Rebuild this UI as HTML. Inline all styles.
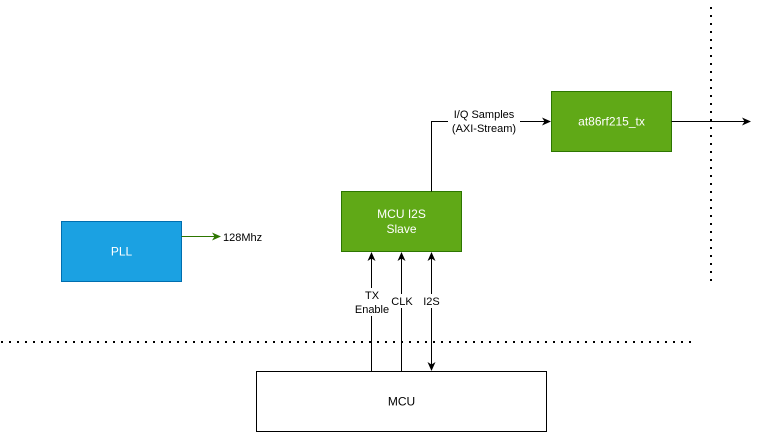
<!DOCTYPE html>
<html><head><style>body{margin:0;background:#fff}svg{display:block}text{font-family:"Liberation Sans",sans-serif;font-size:12px}</style></head>
<body>
<svg width="760" height="432" viewBox="0 0 760 432" xmlns="http://www.w3.org/2000/svg">
<defs>
<marker id="a" markerWidth="10" markerHeight="10" refX="8" refY="5" orient="auto" markerUnits="userSpaceOnUse"><path d="M0,1 L9,5 L0,9 L2.5,5 Z" fill="#000"/></marker>
<marker id="g" markerWidth="10" markerHeight="10" refX="8" refY="5" orient="auto" markerUnits="userSpaceOnUse"><path d="M0,1 L9,5 L0,9 L2.5,5 Z" fill="#2D7600"/></marker>
<marker id="s" markerWidth="10" markerHeight="10" refX="8" refY="5" orient="auto-start-reverse" markerUnits="userSpaceOnUse"><path d="M0,1 L9,5 L0,9 L2.5,5 Z" fill="#000"/></marker>
</defs>
<line x1="1" y1="342" x2="692" y2="342" stroke="#000" stroke-width="2" stroke-dasharray="2 6"/>
<line x1="711" y1="7" x2="711" y2="282" stroke="#000" stroke-width="2" stroke-dasharray="2 6"/>
<rect x="61.5" y="221.5" width="120" height="60" fill="#1BA1E2" stroke="#006EAF"/>
<text x="121.5" y="255.5" fill="#fff" text-anchor="middle">PLL</text>
<line x1="181.5" y1="236.5" x2="220" y2="236.5" stroke="#2D7600" marker-end="url(#g)"/>
<text x="223" y="241" fill="#000" style="font-size:11px">128Mhz</text>
<rect x="341.5" y="191.5" width="120" height="60" fill="#60A917" stroke="#2D7600"/>
<text x="401.5" y="218" fill="#fff" text-anchor="middle">MCU I2S</text>
<text x="401.5" y="233" fill="#fff" text-anchor="middle">Slave</text>
<rect x="551.5" y="91.5" width="120" height="60" fill="#60A917" stroke="#2D7600"/>
<text x="611.5" y="125.5" fill="#fff" text-anchor="middle">at86rf215_tx</text>
<polyline points="431.5,191.5 431.5,121.5 550,121.5" fill="none" stroke="#000" marker-end="url(#a)"/>
<rect x="448" y="106" width="72" height="30" fill="#fff"/>
<text x="484" y="118" text-anchor="middle" style="font-size:11px">I/Q Samples</text>
<text x="484" y="132" text-anchor="middle" style="font-size:11px">(AXI-Stream)</text>
<line x1="671.5" y1="121.5" x2="750" y2="121.5" stroke="#000" marker-end="url(#a)"/>
<line x1="371.5" y1="371.5" x2="371.5" y2="253" stroke="#000" marker-end="url(#a)"/>
<line x1="401.5" y1="371.5" x2="401.5" y2="253" stroke="#000" marker-end="url(#a)"/>
<line x1="431.5" y1="370" x2="431.5" y2="253" stroke="#000" marker-start="url(#s)" marker-end="url(#s)"/>
<rect x="354" y="288" width="36" height="28" fill="#fff"/>
<text x="372" y="299" text-anchor="middle" style="font-size:11px">TX</text>
<text x="372" y="313" text-anchor="middle" style="font-size:11px">Enable</text>
<rect x="390" y="294" width="24" height="14" fill="#fff"/>
<text x="402" y="305" text-anchor="middle" style="font-size:11px">CLK</text>
<rect x="421" y="294" width="20" height="14" fill="#fff"/>
<text x="431.5" y="305" text-anchor="middle" style="font-size:11px">I2S</text>
<rect x="256.5" y="371.5" width="290" height="60" fill="#fff" stroke="#000"/>
<text x="401.5" y="405.5" text-anchor="middle">MCU</text>
</svg>
</body></html>
